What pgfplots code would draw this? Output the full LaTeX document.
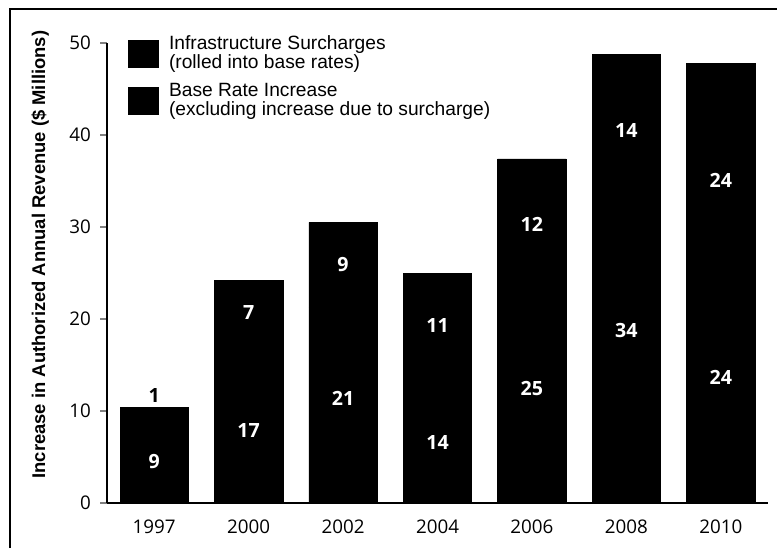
\documentclass[border=0pt]{standalone}
\usepackage{fontspec}
\setmainfont{Liberation Sans}
\newfontfamily\tickfont{Open Sans}
\usepackage{pgfplots}
\pgfplotsset{compat=1.18}
\usepackage{pgfplotstable}

\pgfplotstableread{
x base sur
0 9.4 1.0
1 17.0 7.2
2 21.2 9.3
3 14.0 11.0
4 25.0 12.4
5 34.5 14.3
6 23.8 24.0
}\bars

\pgfplotstableread{
x y lab
0 4.5 9
1 7.9 17
1 20.7 7
2 11.4 21
2 25.9 9
3 6.6 14
3 19.3 11
4 12.5 25
4 30.3 12
5 18.7 34
5 40.5 14
6 13.6 24
6 35.1 24
}\whitelabels

\pgfplotstableread{
x y lab
0 11.7 1
}\blacklabels

\begin{document}
\begin{tikzpicture}[x=1pt,y=1pt]
\pgfplotsset{common/.style={at={(53.5pt,22.5pt)}, anchor=south west,
  width=330.5pt, height=230pt, scale only axis,
  xmin=-0.5, xmax=6.5, ymin=0, ymax=50}}
\begin{axis}[common, ybar stacked, bar width=34.2pt,
  axis x line*=bottom, axis y line*=left,
  axis line style={line width=0.6pt, -},
  ytick={0,10,20,30,40,50},
  xtick={0,1,2,3,4,5,6},
  xticklabels={1997,2000,2002,2004,2006,2008,2010},
  xtick style={draw=none},
  ytick style={line width=0.6pt},
  tick align=outside, major tick length=3.5pt,
  /pgf/number format/assume math mode=true,
  ticklabel style={font=\tickfont\fontsize{9.4}{10}\selectfont},
  xticklabel style={yshift=-1.5pt},
  yticklabel style={xshift=-1pt},
  ylabel={Increase in Authorized Annual Revenue (\$ Millions)},
  every axis y label/.style={at={(axis description cs:-0.101,0.54)}, rotate=90, anchor=center,
    font=\bfseries\fontsize{9.2}{10}\selectfont},
  legend cell align=left, reverse legend,
  legend style={at={(axis description cs:0.0318,1.017)}, anchor=north west,
    draw=none, fill=none, inner sep=0pt, row sep=6pt,
    nodes={align=left, inner xsep=5pt, inner ysep=0pt, font=\fontsize{9.6}{9.5}\selectfont}},
  legend image code/.code={\fill[black] (0pt,-6.75pt) rectangle (15pt,6.75pt);},
]
\addplot[fill=black, draw=black, line width=0.3pt] table[x=x, y=base]{\bars};
\addlegendentry{Base Rate Increase\\(excluding increase due to surcharge)}
\addplot[fill=black, draw=black, line width=0.3pt] table[x=x, y=sur]{\bars};
\addlegendentry{Infrastructure Surcharges\\(rolled into base rates)}
\end{axis}
\begin{axis}[common, hide axis]
\addplot[only marks, mark=none, nodes near coords, point meta=explicit symbolic,
  nodes near coords style={anchor=center, text=white, font=\tickfont\bfseries\fontsize{9.8}{10}\selectfont}]
  table[x=x, y=y, meta=lab]{\whitelabels};
\addplot[only marks, mark=none, nodes near coords, point meta=explicit symbolic,
  nodes near coords style={anchor=center, text=black, font=\tickfont\bfseries\fontsize{9.8}{10}\selectfont}]
  table[x=x, y=y, meta=lab]{\blacklabels};
\end{axis}
\pgfresetboundingbox
\useasboundingbox (0,0) rectangle (388.5,274);
\draw[line width=0.8pt] (5,0) -- (5,269.5) -- (388.5,269.5);
\end{tikzpicture}
\end{document}
